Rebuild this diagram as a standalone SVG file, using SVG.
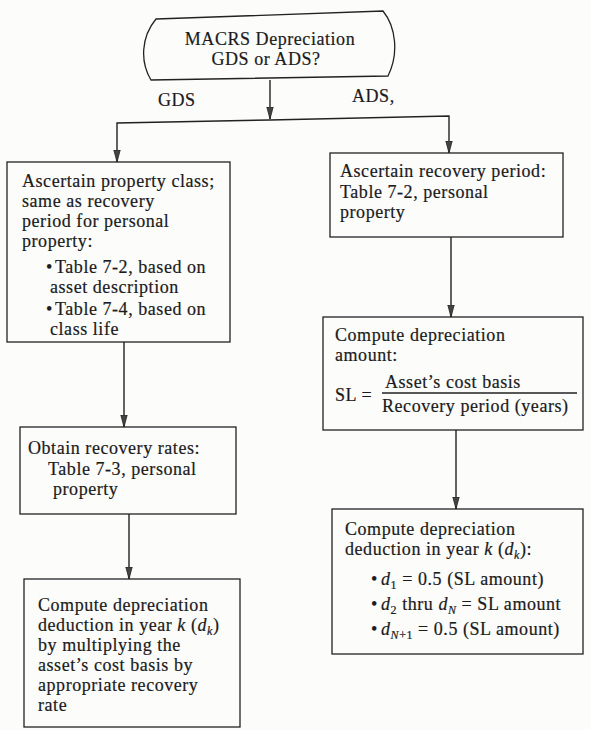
<svg xmlns="http://www.w3.org/2000/svg" width="591" height="730" viewBox="0 0 591 730">
  <defs>
    <style>
      .box { fill: none; stroke: #222; stroke-width: 1.3; }
      .conn { fill: none; stroke: #222; stroke-width: 1.4; }
      .arrow { marker-end: url(#ah); }
      .t { font-family: "Liberation Serif", "Times New Roman", serif; font-size: 18px; fill: #1b1b1b; stroke: #1b1b1b; stroke-width: 0.2; letter-spacing: 0.55px; }
      .mid { text-anchor: middle; }
      .i { font-style: italic; }
      .sub { font-size: 12px; }
    </style>
    <marker id="ah" viewBox="0 0 12 8" refX="12" refY="4" markerWidth="12" markerHeight="8" markerUnits="userSpaceOnUse" orient="auto">
      <path d="M0,0.8 L12,4 L0,7.2 Z" fill="#444" stroke="#222" stroke-width="0.8"/>
    </marker>
  </defs>

  <rect width="591" height="730" fill="#fcfcfb"/>

  <!-- connectors -->
  <g id="connectors">
    <path class="conn arrow" d="M270,80 L270,119"/>
    <path class="conn arrow" d="M270,120 L117,123 L117,162"/>
    <path class="conn arrow" d="M270,120 L449,116 L449,153"/>
    <path class="conn arrow" d="M124,342 L124,427"/>
    <path class="conn arrow" d="M129,514 L129,579"/>
    <path class="conn arrow" d="M451,237 L451,317"/>
    <path class="conn arrow" d="M456,430 L456,509"/>
    <text class="t" x="158" y="106">GDS</text>
    <text class="t" x="352" y="102">ADS,</text>
  </g>

  <!-- start terminal -->
  <g id="start">
    <path class="box" d="M156,19 L383,11 C396,27 399,54 388,76 L151,80 C140,62 141,37 156,19 Z"/>
    <text class="t mid" x="270" y="45">MACRS Depreciation</text>
    <text class="t mid" x="266" y="65">GDS  or  ADS?</text>
  </g>

  <!-- GDS branch -->
  <g id="gds-class">
    <rect class="box" x="7" y="162" width="223" height="180"/>
    <text class="t" x="22" y="187">Ascertain property class;</text>
    <text class="t" x="22" y="207">same as recovery</text>
    <text class="t" x="22" y="227">period for personal</text>
    <text class="t" x="22" y="247">property:</text>
    <text class="t" x="46" y="273">•</text>
    <text class="t" x="55" y="273">Table 7-2, based on</text>
    <text class="t" x="50" y="293">asset description</text>
    <text class="t" x="46" y="315">•</text>
    <text class="t" x="55" y="315">Table 7-4, based on</text>
    <text class="t" x="50" y="335">class life</text>
  </g>

  <g id="gds-rates">
    <rect class="box" x="20" y="427" width="216" height="87"/>
    <text class="t" x="28" y="454">Obtain recovery rates:</text>
    <text class="t" x="48" y="475">Table 7-3, personal</text>
    <text class="t" x="53" y="495">property</text>
  </g>

  <g id="gds-deduction">
    <rect class="box" x="24" y="579" width="216" height="148"/>
    <text class="t" x="38" y="611">Compute depreciation</text>
    <text class="t" x="38" y="631">deduction in year <tspan class="i">k</tspan> (<tspan class="i">d</tspan><tspan class="sub i" dy="4">k</tspan><tspan dy="-4">)</tspan></text>
    <text class="t" x="38" y="651">by multiplying the</text>
    <text class="t" x="38" y="671">asset’s cost basis by</text>
    <text class="t" x="38" y="691">appropriate recovery</text>
    <text class="t" x="38" y="711">rate</text>
  </g>

  <!-- ADS branch -->
  <g id="ads-period">
    <rect class="box" x="330" y="153" width="233" height="84"/>
    <text class="t" x="340" y="177">Ascertain recovery period:</text>
    <text class="t" x="340" y="198">Table 7-2, personal</text>
    <text class="t" x="340" y="218">property</text>
  </g>

  <g id="ads-amount">
    <rect class="box" x="323" y="317" width="260" height="113"/>
    <text class="t" x="335" y="341">Compute  depreciation</text>
    <text class="t" x="335" y="361">amount:</text>
    <text class="t" x="335" y="401">SL =</text>
    <text class="t" x="385" y="388">Asset’s cost basis</text>
    <line class="conn" x1="382" y1="393" x2="577" y2="393"/>
    <text class="t" x="382" y="412">Recovery period (years)</text>
  </g>

  <g id="ads-deduction">
    <rect class="box" x="332" y="509" width="251" height="145"/>
    <text class="t" x="345" y="535">Compute  depreciation</text>
    <text class="t" x="345" y="555">deduction in year <tspan class="i">k</tspan> (<tspan class="i">d</tspan><tspan class="sub i" dy="4">k</tspan><tspan dy="-4">):</tspan></text>
    <text class="t" x="371" y="585">•</text>
    <text class="t" x="381" y="585"><tspan class="i">d</tspan><tspan class="sub" dy="4">1</tspan><tspan dy="-4"> = 0.5 (SL amount)</tspan></text>
    <text class="t" x="371" y="610">•</text>
    <text class="t" x="381" y="610"><tspan class="i">d</tspan><tspan class="sub" dy="4">2</tspan><tspan dy="-4"> thru </tspan><tspan class="i">d</tspan><tspan class="sub i" dy="4">N</tspan><tspan dy="-4"> = SL amount</tspan></text>
    <text class="t" x="371" y="635">•</text>
    <text class="t" x="381" y="635"><tspan class="i">d</tspan><tspan class="sub" dy="4"><tspan class="i">N</tspan>+1</tspan><tspan dy="-4"> = 0.5 (SL amount)</tspan></text>
  </g>
</svg>
